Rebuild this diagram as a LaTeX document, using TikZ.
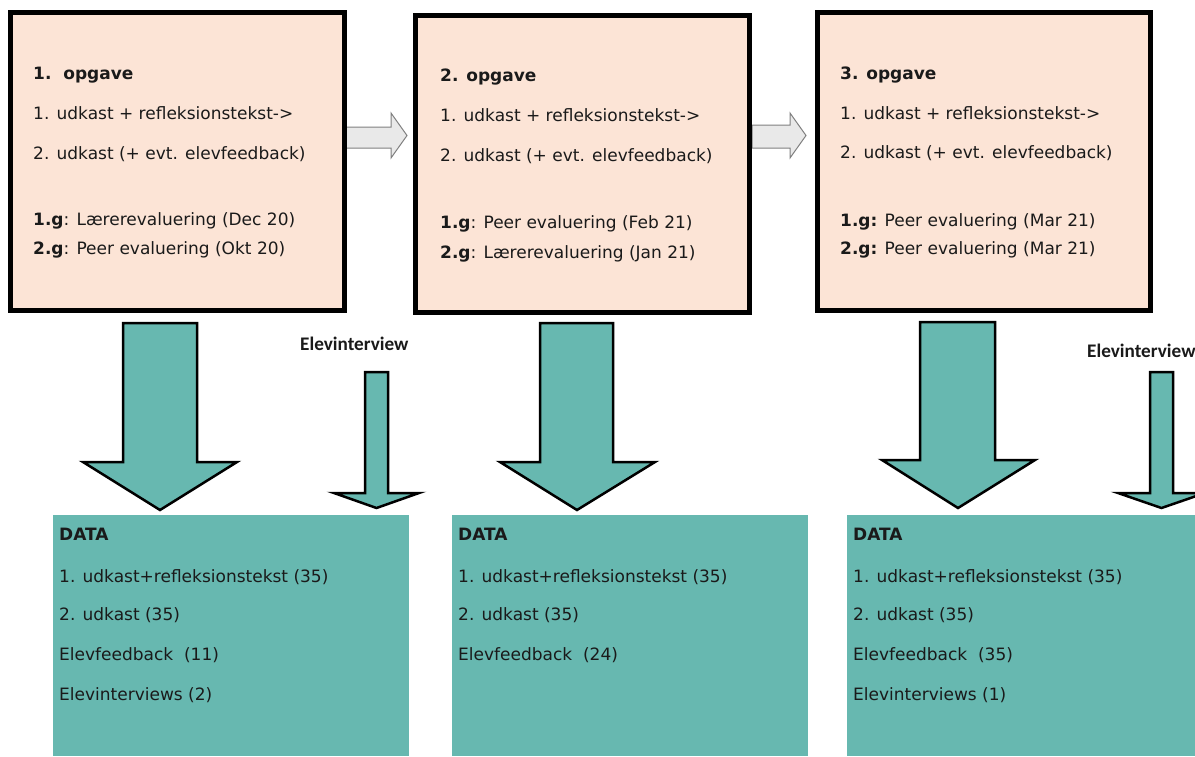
\documentclass[tikz,border=0pt]{standalone}
\usepackage{fontspec}
\setmainfont{DejaVu Sans}
\newfontfamily\labfont{Carlito}
\definecolor{pinkfill}{HTML}{FCE4D6}
\definecolor{tealfill}{HTML}{67B8B0}
\definecolor{greyfill}{HTML}{E9E9E9}
\definecolor{greyline}{HTML}{808080}
\definecolor{txt}{HTML}{1A1A1A}
\tikzset{
  taskbox/.style={draw=black, line width=5pt, fill=pinkfill, inner sep=0pt},
  databox/.style={fill=tealfill, inner sep=0pt},
  tline/.style={anchor=base west, inner sep=0pt, text=txt, font=\fontsize{17}{20}\selectfont},
  dline/.style={anchor=base west, inner sep=0pt, text=txt, font=\fontsize{17}{20}\selectfont},
  lab/.style={anchor=base west, inner sep=0pt, text=txt, font=\labfont\bfseries\fontsize{19.2}{21}\selectfont},
  bigarrow/.style={fill=tealfill, draw=black, line width=2.5pt, line join=miter},
  greyarrow/.style={fill=greyfill, draw=greyline, line width=1pt, line join=miter},
}
\begin{document}
\begin{tikzpicture}[x=1pt,y=-1pt]
\clip (0,0) rectangle (1195,756);
\fill[white] (0,0) rectangle (1195,756);

% grey connector arrows
\draw[greyarrow] (344,127) -- (391,127) -- (391,113) -- (407,135.5) -- (391,158) -- (391,148) -- (344,148) -- cycle;
\draw[greyarrow] (752,125) -- (790,125) -- (790,113) -- (806,135.5) -- (790,158) -- (790,148) -- (752,148) -- cycle;

% task boxes
\node[taskbox, minimum width=334pt, minimum height=298pt] (b1) at (177.5,161.5) {};
\node[taskbox, minimum width=334pt, minimum height=297pt] (b2) at (582.5,164) {};
\node[taskbox, minimum width=333pt, minimum height=298pt] (b3) at (984,161.5) {};

% data boxes
\node[databox, minimum width=356pt, minimum height=241pt] (d1) at (231,635.5) {};
\node[databox, minimum width=356pt, minimum height=241pt] (d2) at (630,635.5) {};
\node[databox, minimum width=358pt, minimum height=241pt] (d3) at (1026,635.5) {};

% big down arrows
\draw[bigarrow] (123,323) -- (197,323) -- (197,462) -- (237,462) -- (160,510) -- (83,462) -- (123,462) -- cycle;
\draw[bigarrow] (540,323) -- (613,323) -- (613,462) -- (655,462) -- (577,510) -- (500,462) -- (540,462) -- cycle;
\draw[bigarrow] (920,322) -- (995,322) -- (995,460) -- (1035,460) -- (958,508) -- (882,460) -- (920,460) -- cycle;

% small down arrows
\draw[bigarrow] (365,372) -- (388,372) -- (388,493) -- (419,493) -- (376.5,508) -- (334,493) -- (365,493) -- cycle;
\draw[bigarrow] (1150,372) -- (1173,372) -- (1173,493) -- (1205,493) -- (1161.5,508) -- (1118,493) -- (1150,493) -- cycle;

\node[lab] (l1) at (300,350) {Elevinterview};
\node[lab] (l2) at (1087,357) {Elevinterview};

% texts box 1
\node[tline] (t11) at (33,79) {\textbf{1.\ \ opgave}};
\node[tline] (t12) at (33,119) {1. udkast + refleksionstekst->};
\node[tline] (t13) at (33,159) {2. udkast (+ evt. elevfeedback)};
\node[tline] (t14) at (33,225) {\textbf{1.g}: Lærerevaluering (Dec 20)};
\node[tline] (t15) at (33,254) {\textbf{2.g}: Peer evaluering (Okt 20)};

% texts box 2
\node[tline] (t21) at (440,81) {\textbf{2. opgave}};
\node[tline] (t22) at (440,121) {1. udkast + refleksionstekst->};
\node[tline] (t23) at (440,161) {2. udkast (+ evt. elevfeedback)};
\node[tline] (t24) at (440,228) {\textbf{1.g}: Peer evaluering (Feb 21)};
\node[tline] (t25) at (440,258) {\textbf{2.g}: Lærerevaluering (Jan 21)};

% texts box 3
\node[tline] (t31) at (840,79) {\textbf{3. opgave}};
\node[tline] (t32) at (840,119) {1. udkast + refleksionstekst->};
\node[tline] (t33) at (840,158) {2. udkast (+ evt. elevfeedback)};
\node[tline] (t34) at (840,226) {\textbf{1.g:} Peer evaluering (Mar 21)};
\node[tline] (t35) at (840,254) {\textbf{2.g:} Peer evaluering (Mar 21)};

% data texts
\node[dline] (e11) at (59,540) {\textbf{DATA}};
\node[dline] (e12) at (59,582) {1. udkast+refleksionstekst (35)};
\node[dline] (e13) at (59,620) {2. udkast (35)};
\node[dline] (e14) at (59,660) {Elevfeedback\ \ (11)};
\node[dline] (e15) at (59,700) {Elevinterviews (2)};

\node[dline] (e21) at (458,540) {\textbf{DATA}};
\node[dline] (e22) at (458,582) {1. udkast+refleksionstekst (35)};
\node[dline] (e23) at (458,620) {2. udkast (35)};
\node[dline] (e24) at (458,660) {Elevfeedback\ \ (24)};

\node[dline] (e31) at (853,540) {\textbf{DATA}};
\node[dline] (e32) at (853,582) {1. udkast+refleksionstekst (35)};
\node[dline] (e33) at (853,620) {2. udkast (35)};
\node[dline] (e34) at (853,660) {Elevfeedback\ \ (35)};
\node[dline] (e35) at (853,700) {Elevinterviews (1)};
\end{tikzpicture}
\end{document}
